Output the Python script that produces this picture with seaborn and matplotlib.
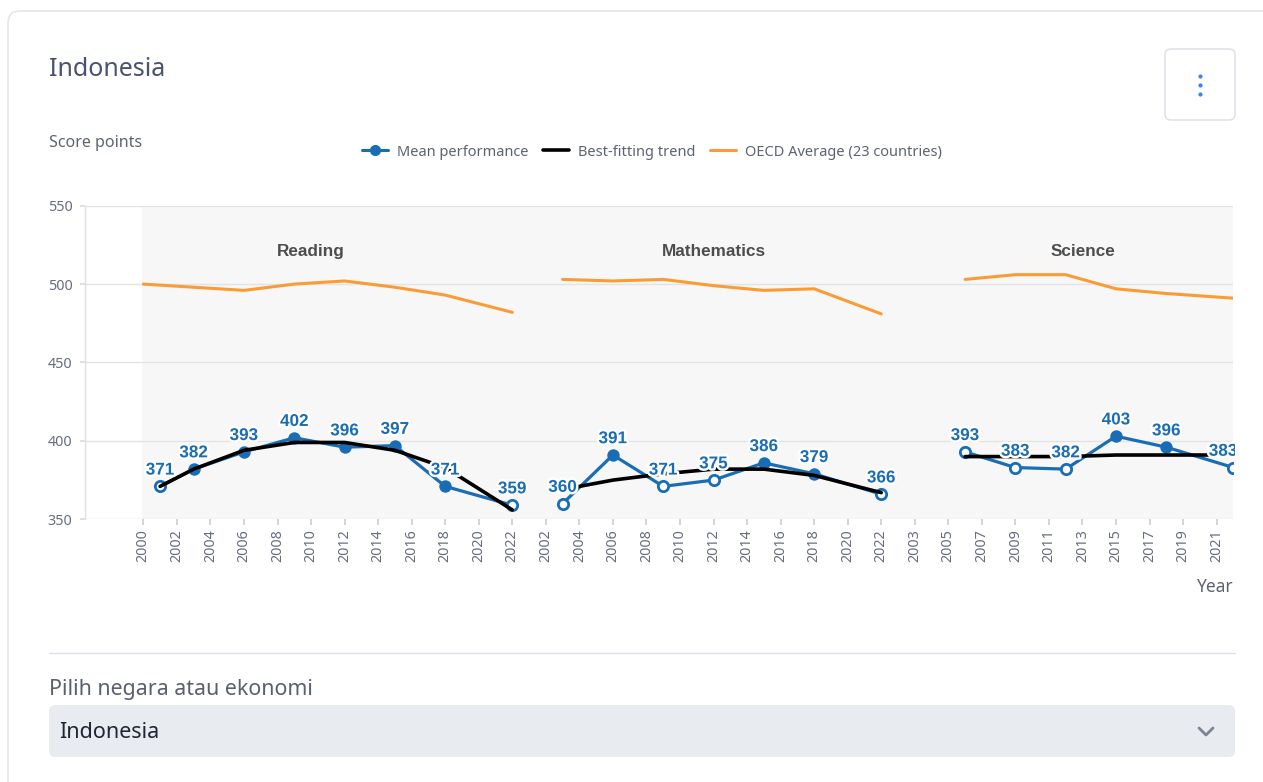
import matplotlib
matplotlib.use("Agg")
import pandas as pd
import matplotlib.pyplot as plt
import matplotlib.patheffects as pe
from matplotlib.patches import FancyBboxPatch
from matplotlib.lines import Line2D
from matplotlib.transforms import IdentityTransform, Bbox
import seaborn as sns

# --- data ---
reading_years = [2001, 2003, 2006, 2009, 2012, 2015, 2018, 2022]
reading_mean = [371, 382, 393, 402, 396, 397, 371, 359]
reading_hollow = [1, 0, 0, 0, 0, 0, 0, 1]
reading_trend = [371, 382, 394, 399, 399, 394, 383, 356]
reading_oecd_years = [2000, 2003, 2006, 2009, 2012, 2015, 2018, 2022]
reading_oecd = [500, 498, 496, 500, 502, 498, 493, 482]

math_years = [2003, 2006, 2009, 2012, 2015, 2018, 2022]
math_mean = [360, 391, 371, 375, 386, 379, 366]
math_hollow = [1, 0, 1, 1, 0, 0, 1]
math_trend = [369, 375, 379, 382, 382, 378, 367]
math_oecd = [503, 502, 503, 499, 496, 497, 481]

science_years = [2006, 2009, 2012, 2015, 2018, 2022]
science_mean = [393, 383, 382, 403, 396, 383]
science_hollow = [1, 1, 1, 0, 0, 1]
science_trend = [390, 390, 390, 391, 391, 391]
science_oecd = [503, 506, 506, 497, 494, 491]

subjects = ["Reading", "Mathematics", "Science"]
first_year = {"Reading": 2000, "Mathematics": 2001, "Science": 2002}   # first category of each panel
title_year = {"Reading": 2010, "Mathematics": 2012, "Science": 2013}   # where the panel name sits
last_year = 2022

BLUE = "#1a6db4"
ORANGE = "#fb9b35"
GREY_TXT = "#5d6373"
TICK_TXT = "#676c80"
W, H = 1263, 782

# one categorical x axis: every panel gets its own run of years
cats = [(s, y) for s in subjects for y in range(first_year[s], last_year + 1)]
pos = {c: i for i, c in enumerate(cats)}

mean_rows, trend_rows, oecd_rows = [], [], []
series = {
    "Reading": (reading_years, reading_mean, reading_hollow, reading_trend, reading_oecd_years, reading_oecd),
    "Mathematics": (math_years, math_mean, math_hollow, math_trend, math_years, math_oecd),
    "Science": (science_years, science_mean, science_hollow, science_trend, science_years, science_oecd),
}
for s, (yrs, mean, hollow, trend, oyrs, oecd) in series.items():
    for y, m, h, t in zip(yrs, mean, hollow, trend):
        mean_rows.append({"subject": s, "x": pos[(s, y)], "score": m, "hollow": bool(h)})
        trend_rows.append({"subject": s, "x": pos[(s, y)], "score": t})
    for y, o in zip(oyrs, oecd):
        oecd_rows.append({"subject": s, "x": pos[(s, y)], "score": o})
df_mean = pd.DataFrame(mean_rows)
df_trend = pd.DataFrame(trend_rows)
df_oecd = pd.DataFrame(oecd_rows)

sns.set_theme(style="white")
plt.rcParams["font.family"] = ["Noto Sans", "DejaVu Sans"]

fig = plt.figure(figsize=(W / 100, H / 100), dpi=100)
fig.patch.set_facecolor("white")

def px(x, y):                                                       # image pixel -> figure fraction
    return x / W, 1 - y / H

def box(x0, y0, x1, y1, r, fc, ec, lw=1.0, z=1):                    # rounded rectangle in image pixels
    p = FancyBboxPatch((x0, H - y1), x1 - x0, y1 - y0, boxstyle=f"round,pad=0,rounding_size={r}",
                       transform=IdentityTransform(), facecolor=fc, edgecolor=ec, linewidth=lw,
                       zorder=z)
    fig.add_artist(p)

# page chrome
box(8, 11, 1290, 820, 12, "none", "#e3e6ea", 1.2, z=-5)
box(1165, 49, 1235, 120, 6, "white", "#dfe3e8", 1.2)
for yy in (76, 85, 94):
    fig.add_artist(Line2D([px(1200, yy)[0]], [px(1200, yy)[1]], marker="o", markersize=2.0,
                          color="#3b82f6", transform=fig.transFigure))
fig.add_artist(Line2D([px(49, 653)[0], px(1235, 653)[0]], [px(49, 653)[1]] * 2,
                      color="#dde1e7", lw=1.0, transform=fig.transFigure))
box(49, 705, 1235, 757, 6, "#e8ecf0", "none")
fig.add_artist(Line2D([px(1199, 0)[0], px(1206, 0)[0], px(1213, 0)[0]],
                      [px(0, 728)[1], px(0, 735)[1], px(0, 728)[1]],
                      color="#7b8494", lw=2.0, transform=fig.transFigure))

fig.text(*px(49, 70), "Indonesia", fontsize=18, color="#4a5270", va="center")
fig.text(*px(49, 143), "Score points", fontsize=11.5, color=GREY_TXT, va="center")
fig.text(*px(1233, 587), "Year", fontsize=12.5, color=GREY_TXT, va="center", ha="right")
fig.text(*px(49, 690), "Pilih negara atau ekonomi", fontsize=15.4, color="#5a6070", va="center")
fig.text(*px(59, 732), "Indonesia", fontsize=15.5, color="#1f2633", va="center")

# chart area
ax = fig.add_axes([85 / W, (H - 519.3) / H, (1233.4 - 85) / W, (519.3 - 205.7) / H])
ax.set_facecolor("white")
ax.axvspan(-0.1, len(cats), color="#f7f7f7", zorder=0, lw=0)
ax.set_axisbelow(True)
ax.yaxis.grid(True, color="#e3e3e3", lw=1.0)
ax.xaxis.grid(False)

for s in subjects:
    sns.lineplot(data=df_oecd[df_oecd.subject == s], x="x", y="score", color=ORANGE, lw=2.2,
                 sort=False, estimator=None, legend=False, ax=ax, zorder=2)
    sns.lineplot(data=df_mean[df_mean.subject == s], x="x", y="score", color=BLUE, lw=2.3,
                 sort=False, estimator=None, legend=False, ax=ax, zorder=3)
    sns.lineplot(data=df_trend[df_trend.subject == s], x="x", y="score", color="black", lw=2.6,
                 sort=False, estimator=None, legend=False, ax=ax, zorder=5)

sns.scatterplot(data=df_mean[~df_mean.hollow], x="x", y="score", color=BLUE, s=80,
                linewidth=0, legend=False, ax=ax, zorder=4)
sns.scatterplot(data=df_mean[df_mean.hollow], x="x", y="score", color="white", edgecolor=BLUE,
                s=55, linewidth=2.0, legend=False, ax=ax, zorder=4)

halo = [pe.withStroke(linewidth=3.5, foreground="white")]
label_clip = Bbox.from_extents(0, 0, 1235, H)                       # labels run a little past the plot edge
x_last = df_mean.x.max()
for _, r in df_mean.iterrows():
    at_edge = r.x == x_last                                         # edge label is pushed back inside
    t = ax.annotate(str(r.score), (r.x, r.score), xytext=(3 if at_edge else 0, 8.5),
                    textcoords="offset points", ha="right" if at_edge else "center",
                    va="baseline", fontsize=12.3, fontweight="bold", color=BLUE,
                    family="Liberation Sans", path_effects=halo, zorder=6, annotation_clip=False)
    t.set_clip_path(None)
    t.set_clip_box(label_clip)
    t.set_clip_on(True)

for s in subjects:
    ax.text(pos[(s, title_year[s])], 521, s, ha="center", va="center", fontsize=12.3,
            fontweight="bold", color="#4d4d4d", family="Liberation Sans")

ax.set_xlim(-3.48, 65.0)
ax.set_ylim(350, 550)
ax.set_yticks([350, 400, 450, 500, 550])
ticks = list(range(0, len(cats), 2))
ax.set_xticks(ticks)
ax.set_xticklabels([str(cats[i][1]) for i in ticks], rotation=90)
ax.tick_params(axis="x", length=4.3, color="#cfcfcf", labelsize=10.3, labelcolor=TICK_TXT, pad=3,
               bottom=True)
ax.tick_params(axis="y", length=3.5, color="#dcdcdc", labelsize=10.3, labelcolor=TICK_TXT, pad=5.5,
               left=True)
ax.set_xlabel("")
ax.set_ylabel("")
for side in ("top", "right", "bottom"):
    ax.spines[side].set_visible(False)
ax.spines["left"].set_color("#e0e0e0")
ax.spines["left"].set_linewidth(1.0)

handles = [
    Line2D([], [], color=BLUE, lw=2.2, marker="o", markersize=7),
    Line2D([], [], color="black", lw=2.6),
    Line2D([], [], color=ORANGE, lw=2.2),
]
labels = ["Mean performance", "Best-fitting trend", "OECD Average (23 countries)"]
leg = fig.legend(handles, labels, loc="center", bbox_to_anchor=px(652, 152), ncol=3, frameon=False,
                 fontsize=10.5, handlelength=1.8, handletextpad=0.6, columnspacing=1.0)
for t in leg.get_texts():
    t.set_color(GREY_TXT)

fig.savefig("out.png", dpi=100)
